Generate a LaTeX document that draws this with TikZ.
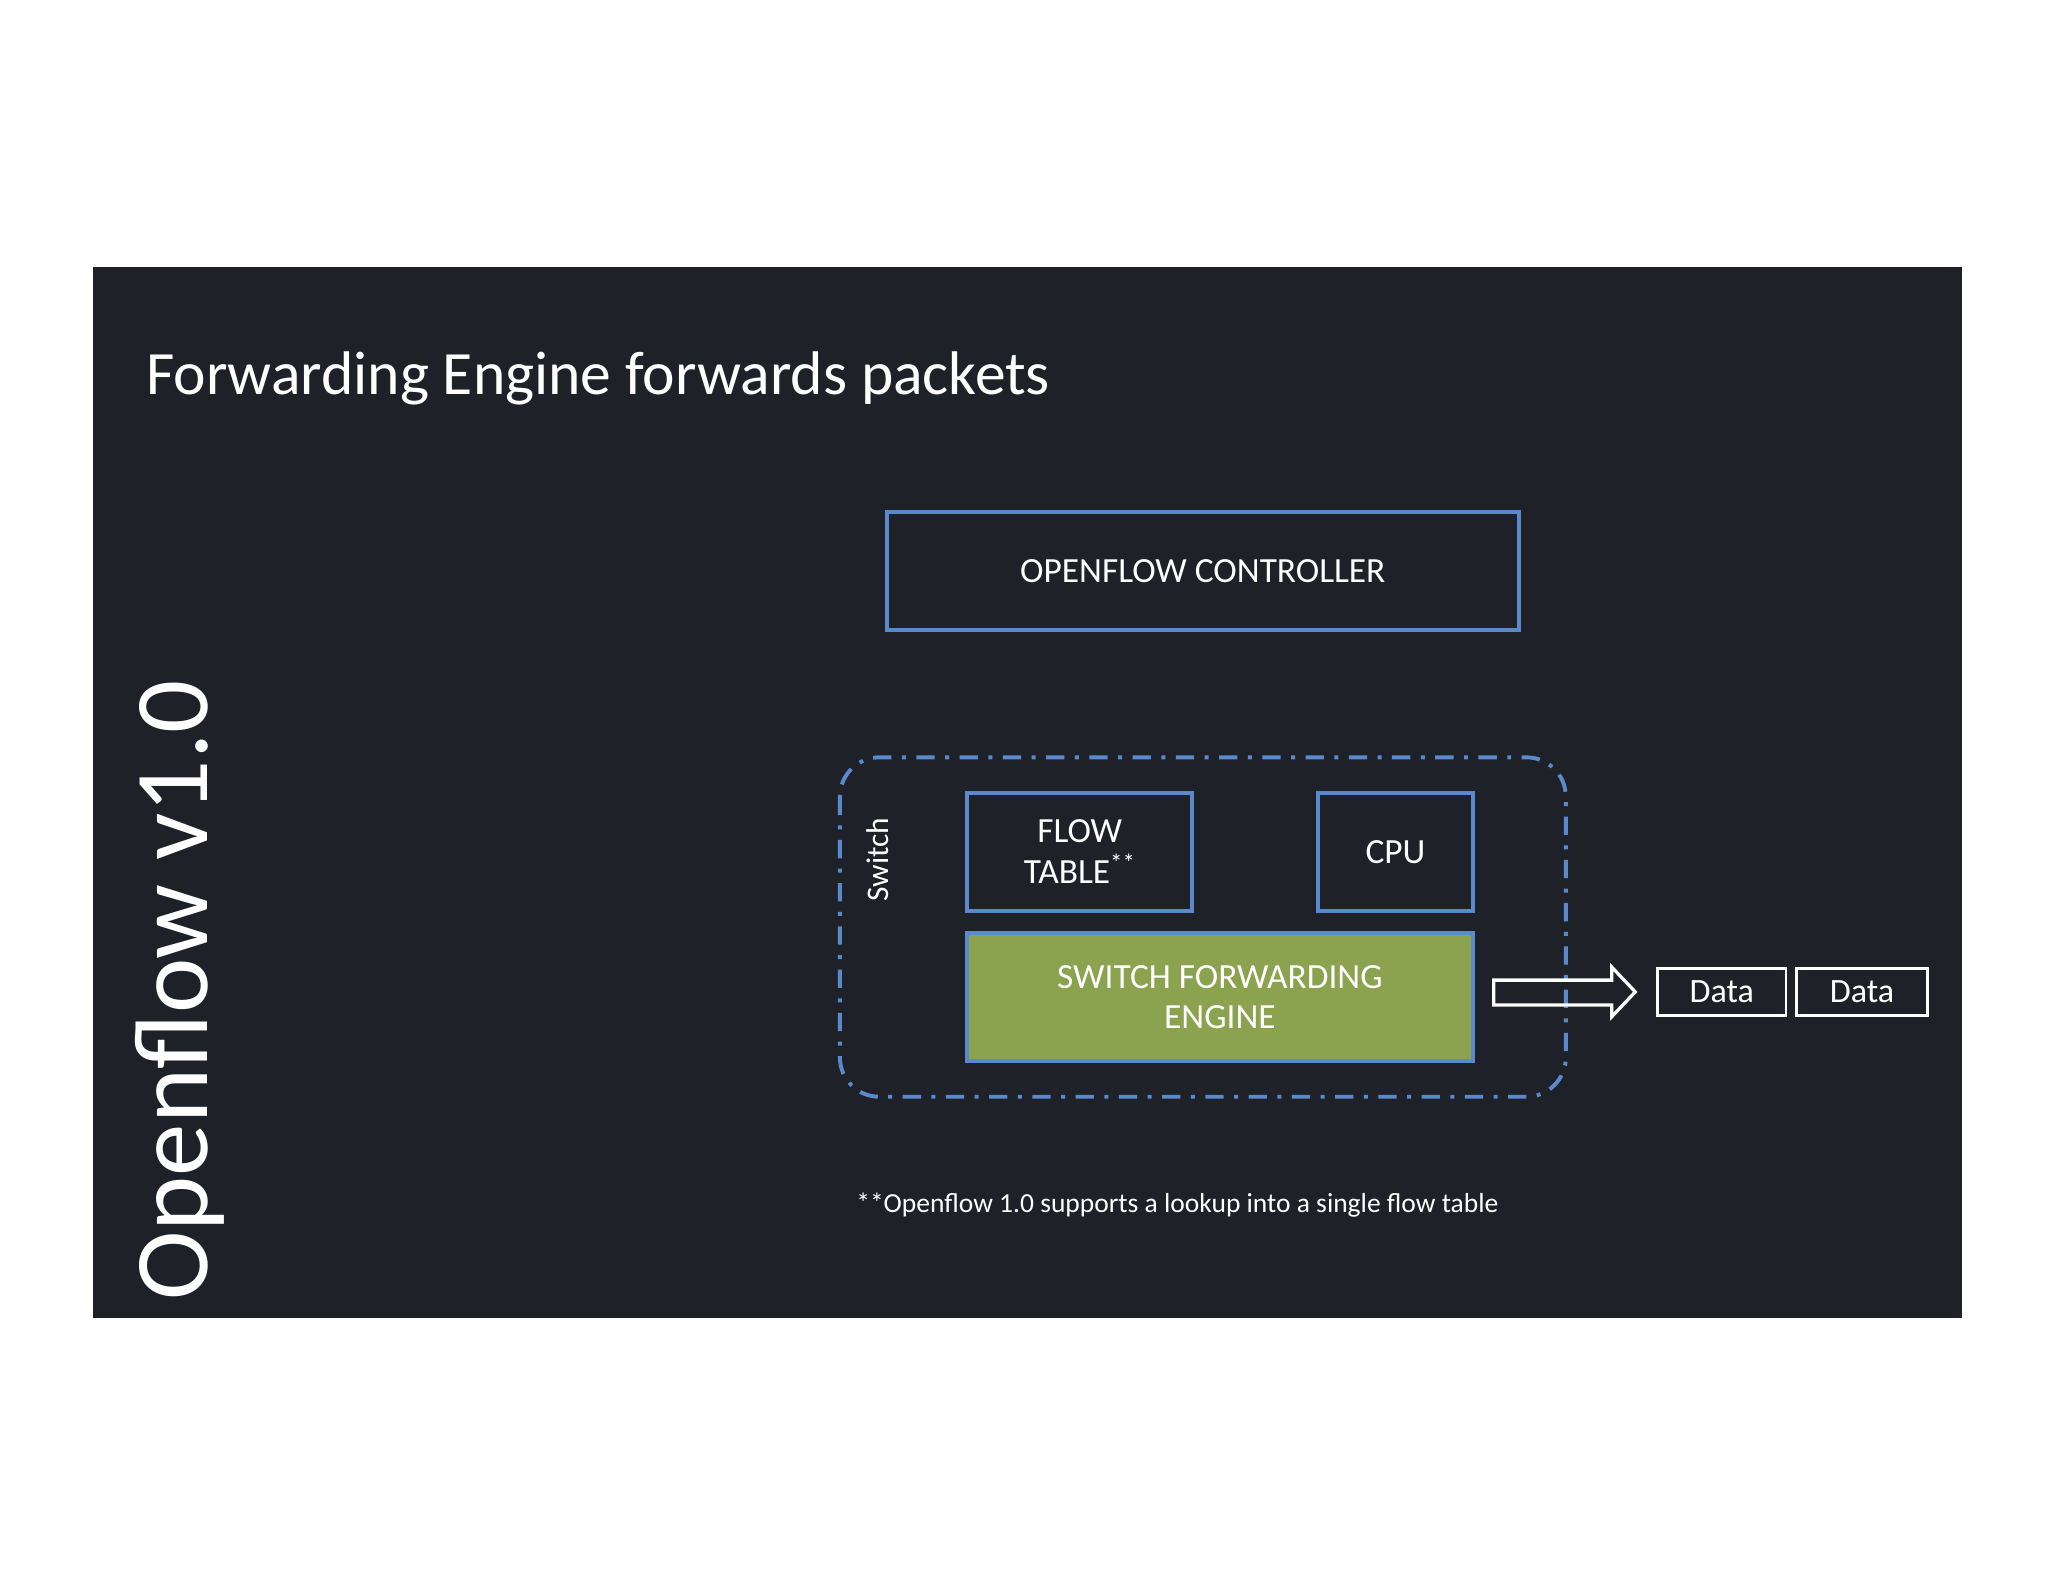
\documentclass[tikz,border=0pt]{standalone}
\usepackage{fontspec}
\setmainfont{Carlito}
\begin{document}
\begin{tikzpicture}[x=1pt,y=-1pt,
  bx/.style={draw=myblue,line width=3pt,text=white,align=center,font=\fontsize{27}{31}\selectfont},
  dbox/.style={draw=white,line width=2.2pt,text=white,font=\fontsize{26}{30}\selectfont}]
\definecolor{bg}{HTML}{1E2128}
\definecolor{myblue}{HTML}{5A8ACB}
\definecolor{mygreen}{HTML}{8BA24F}
\useasboundingbox (0,0) rectangle (1563,1207);
\fill[white] (0,0) rectangle (1563,1207);
\fill[bg] (71,204) rectangle (1497,1006);
\node[anchor=base west,text=white,font=\fontsize{47}{52}\selectfont] (title) at (108,301) {Forwarding Engine forwards packets};
\node[anchor=base west,rotate=90,text=white,font=\fontsize{80}{86}\selectfont] (ver) at (158,996) {Openflow v1.0};
\node[bx,minimum width=482pt,minimum height=90pt] (ctrl) at (918,436) {OPENFLOW CONTROLLER};
\draw[myblue,line width=3pt,dash pattern=on 14pt off 8pt on 3pt off 8pt,rounded corners=30pt] (641,578) rectangle (1195,837);
\node[rotate=90,text=white,font=\fontsize{24}{28}\selectfont] (sw) at (670,656) {Switch};
\node[bx,minimum width=172pt,minimum height=90pt] (ft) at (824,650) {FLOW\\TABLE\textsuperscript{**}};
\node[bx,minimum width=118pt,minimum height=90pt] (cpu) at (1065,650) {CPU};
\node[bx,fill=mygreen,minimum width=386pt,minimum height=98pt] (eng) at (931,761) {SWITCH FORWARDING\\ENGINE};
\draw[white,line width=2.5pt] (1140,748) -- (1230,748) -- (1230,738) -- (1248,757) -- (1230,776) -- (1230,767) -- (1140,767) -- cycle;
\node[dbox,minimum width=98pt,minimum height=36pt] (d1) at (1314,757) {Data};
\node[dbox,minimum width=100pt,minimum height=36pt] (d2) at (1421,757) {Data};
\node[anchor=base west,text=white,font=\fontsize{21}{24}\selectfont] (note) at (650,925) {**Openflow 1.0 supports a lookup into a single flow table};
\end{tikzpicture}
\end{document}
